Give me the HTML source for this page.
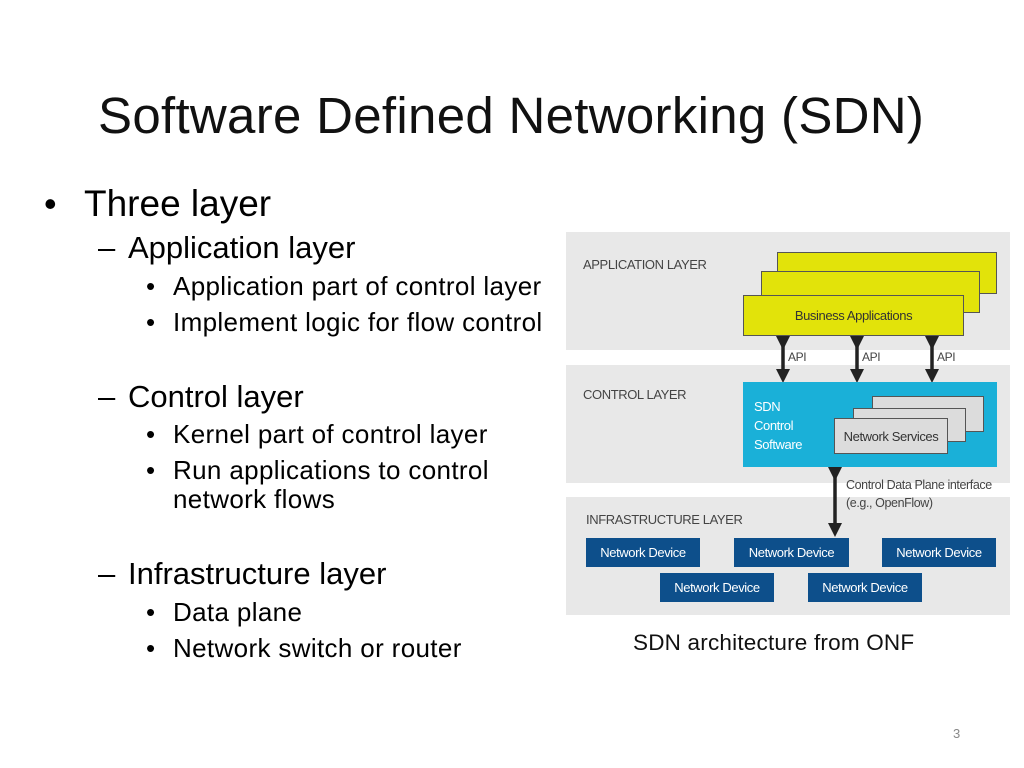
<!DOCTYPE html>
<html><head><style>
body{margin:0;width:1024px;height:768px;background:#fff;position:relative;overflow:hidden;font-family:"Liberation Sans",sans-serif;}
.a{position:absolute;white-space:nowrap;}
.g{position:absolute;background:#e8e8e8;}
.y{position:absolute;background:#e2e30a;border:1px solid #555;box-sizing:border-box;}
.s{position:absolute;background:#dcdcdc;border:1px solid #555;box-sizing:border-box;}
.d{position:absolute;background:#0d4f8b;color:#fff;font-size:13px;text-align:center;line-height:29px;height:29px;letter-spacing:-0.4px;}
.lab{position:absolute;font-size:13px;color:#444;letter-spacing:-0.4px;}
.b{font-size:26px;letter-spacing:0.35px;}
.h{font-size:31px;}
</style></head><body>
<div class="a" style="left:98px;top:86px;font-size:51px;color:#111;letter-spacing:0.3px;">Software Defined Networking (SDN)</div>
<div class="a" style="left:44px;top:183px;font-size:36px;">•</div>
<div class="a" style="left:84px;top:183px;font-size:37px;">Three layer</div>
<div class="a h" style="left:98px;top:230px;">–</div><div class="a h" style="left:128px;top:230px;">Application layer</div>
<div class="a b" style="left:146px;top:271px;">•</div><div class="a b" style="left:173px;top:271px;">Application part of control layer</div>
<div class="a b" style="left:146px;top:307px;">•</div><div class="a b" style="left:173px;top:307px;">Implement logic for flow control</div>
<div class="a h" style="left:98px;top:379px;">–</div><div class="a h" style="left:128px;top:379px;">Control layer</div>
<div class="a b" style="left:146px;top:419px;">•</div><div class="a b" style="left:173px;top:419px;">Kernel part of control layer</div>
<div class="a b" style="left:146px;top:455px;">•</div><div class="a b" style="left:173px;top:455px;">Run applications to control</div>
<div class="a b" style="left:173px;top:484px;">network flows</div>
<div class="a h" style="left:98px;top:556px;">–</div><div class="a h" style="left:128px;top:556px;">Infrastructure layer</div>
<div class="a b" style="left:146px;top:597px;">•</div><div class="a b" style="left:173px;top:597px;">Data plane</div>
<div class="a b" style="left:146px;top:633px;">•</div><div class="a b" style="left:173px;top:633px;">Network switch or router</div>

<div class="g" style="left:566px;top:232px;width:444px;height:118px;"></div>
<div class="g" style="left:566px;top:365px;width:444px;height:118px;"></div>
<div class="g" style="left:566px;top:497px;width:444px;height:118px;"></div>
<div class="lab" style="left:583px;top:257px;">APPLICATION LAYER</div>
<div class="lab" style="left:583px;top:387px;">CONTROL LAYER</div>
<div class="lab" style="left:586px;top:512px;">INFRASTRUCTURE LAYER</div>

<div class="y" style="left:777px;top:252px;width:220px;height:42px;"></div>
<div class="y" style="left:761px;top:271px;width:219px;height:42px;"></div>
<div class="y" style="left:743px;top:295px;width:221px;height:41px;"></div>
<div class="lab" style="left:743px;top:308px;width:221px;text-align:center;color:#333;">Business Applications</div>

<svg style="position:absolute;left:0;top:0" width="1024" height="768">
<defs><marker id="h" markerWidth="4" markerHeight="4" refX="2" refY="2" orient="auto"><path d="M0,0L4,2L0,4z" fill="#222"/></marker></defs>
<g stroke="#222" stroke-width="3.5" marker-start="url(#h)" marker-end="url(#h)">
<line x1="783" y1="343" x2="783" y2="376"/>
<line x1="857" y1="343" x2="857" y2="376"/>
<line x1="932" y1="343" x2="932" y2="376"/>
<line x1="835" y1="474" x2="835" y2="530"/>
</g></svg>
<div class="lab" style="left:788px;top:350px;font-size:12px;">API</div>
<div class="lab" style="left:862px;top:350px;font-size:12px;">API</div>
<div class="lab" style="left:937px;top:350px;font-size:12px;">API</div>

<div style="position:absolute;left:743px;top:382px;width:254px;height:85px;background:#1ab0d8;"></div>
<div class="a" style="left:754px;top:397px;font-size:13px;color:#fff;line-height:19px;letter-spacing:-0.4px;">SDN<br>Control<br>Software</div>
<div class="s" style="left:872px;top:396px;width:112px;height:36px;"></div>
<div class="s" style="left:853px;top:408px;width:113px;height:34px;"></div>
<div class="s" style="left:834px;top:418px;width:114px;height:36px;"></div>
<div class="lab" style="left:834px;top:429px;width:114px;text-align:center;color:#333;">Network Services</div>

<div class="lab" style="left:846px;top:478px;font-size:12.5px;">Control Data Plane interface</div>
<div class="lab" style="left:846px;top:496px;font-size:12.5px;">(e.g., OpenFlow)</div>

<div class="d" style="left:586px;top:538px;width:114px;">Network Device</div>
<div class="d" style="left:734px;top:538px;width:115px;">Network Device</div>
<div class="d" style="left:882px;top:538px;width:114px;">Network Device</div>
<div class="d" style="left:660px;top:573px;width:114px;">Network Device</div>
<div class="d" style="left:808px;top:573px;width:114px;">Network Device</div>

<div class="a" style="left:633px;top:630px;font-size:22.5px;color:#111;letter-spacing:0.2px;">SDN architecture from ONF</div>
<div class="a" style="left:953px;top:726px;font-size:13px;color:#888;">3</div>
</body></html>
